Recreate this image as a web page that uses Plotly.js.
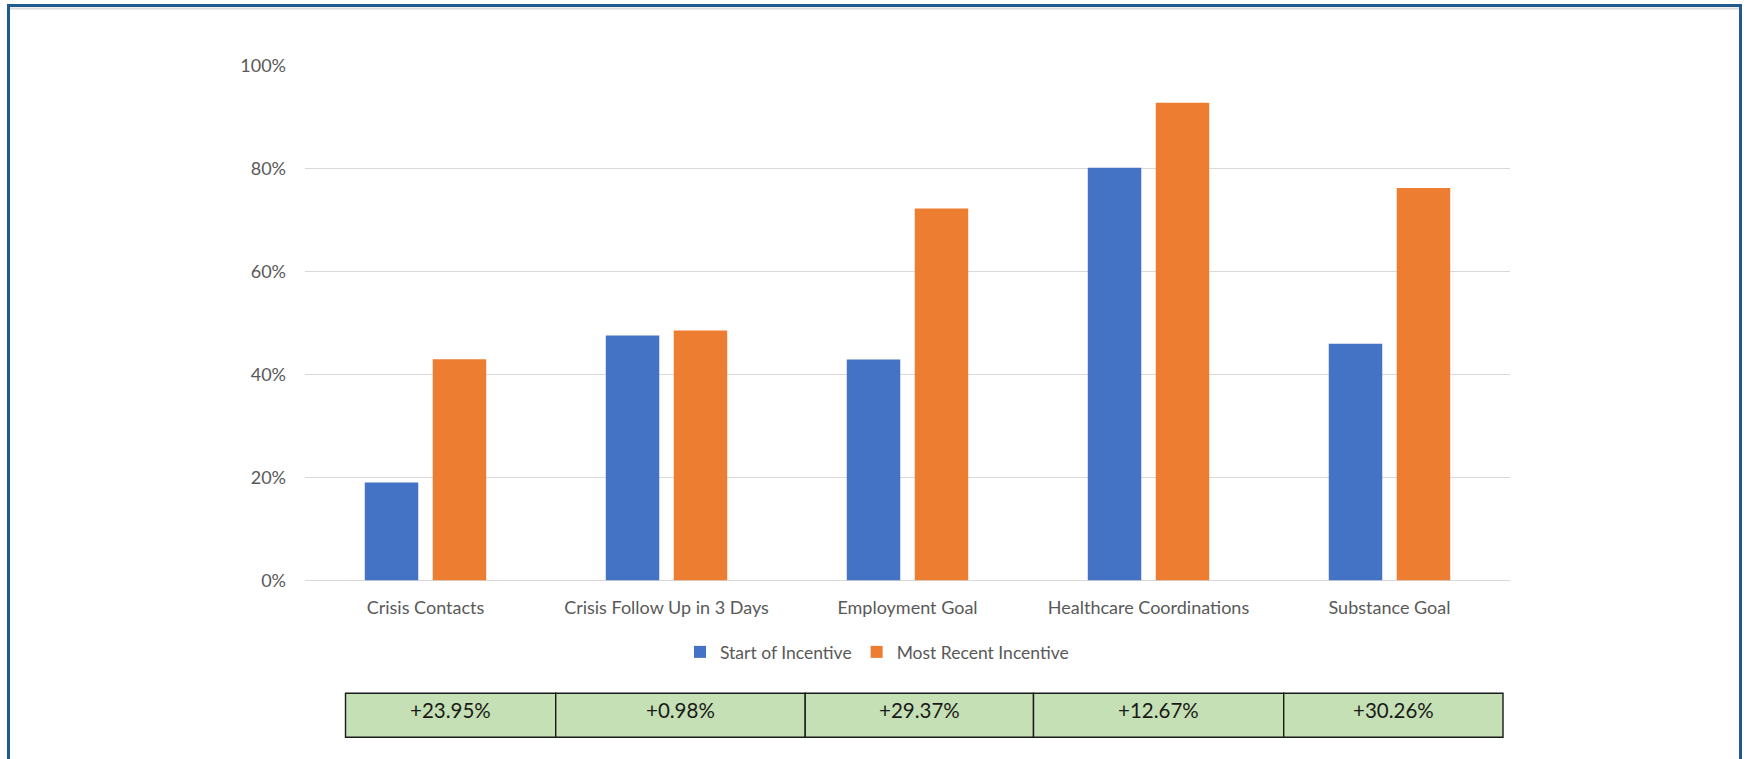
<!DOCTYPE html>
<html>
<head>
<meta charset="utf-8">
<script src="https://cdn.plot.ly/plotly-3.0.1.min.js"></script>
<style>
  html, body { margin: 0; padding: 0; background: #ffffff; }
  #chart { width: 1750px; height: 759px; }
</style>
</head>
<body>
<div id="chart"></div>
<script>
// Program metrics, share of clients meeting each goal (%)
const categories = [
  'Crisis Contacts',
  'Crisis Follow Up in 3 Days',
  'Employment Goal',
  'Healthcare Coordinations',
  'Substance Goal'
];
const startOfIncentive   = [19.05, 47.62, 42.95, 80.20, 46.03];
const mostRecentIncentive = [43.00, 48.60, 72.32, 92.87, 76.29];
const seriesNames = ['Start of Incentive', 'Most Recent Incentive'];
const yTickValues = [0, 20, 40, 60, 80, 100];
const yTickLabels = ['0%', '20%', '40%', '60%', '80%', '100%'];

// Change row under the chart, derived from the two series
const changeLabels = mostRecentIncentive.map(function (v, i) {
  return '+' + (v - startOfIncentive[i]).toFixed(2) + '%';
});

const W = 1750, H = 759;
const px = function (x) { return x / W; };
const py = function (y) { return 1 - y / H; };

const FONT = 'Lato, Carlito, Calibri, "Open Sans", sans-serif';
const BLUE = '#4472C4';
const ORANGE = '#ED7D31';
const GRID = '#d9d9d9';

const traces = [
  {
    type: 'bar',
    name: seriesNames[0],
    x: categories,
    y: startOfIncentive,
    marker: { color: BLUE },
    hoverinfo: 'x+y'
  },
  {
    type: 'bar',
    name: seriesNames[1],
    x: categories,
    y: mostRecentIncentive,
    marker: { color: ORANGE },
    hoverinfo: 'x+y'
  }
];

// Table strip: column edges in page pixels
const colEdges = [345.5, 555.7, 805.2, 1033.5, 1283.7, 1503];
const tableTop = 693.3, tableBottom = 737.3;

const shapes = [];
const annotations = [];

// outer panel frame
shapes.push({
  type: 'line', xref: 'paper', yref: 'paper',
  x0: px(10), x1: px(1739), y0: py(8.5), y1: py(8.5),
  line: { color: '#dcdcdc', width: 2 }, layer: 'below'
});
shapes.push({
  type: 'rect', xref: 'paper', yref: 'paper',
  x0: px(8.5), x1: px(1740.5), y0: py(H + 10), y1: py(5.5),
  line: { color: '#1f5b8c', width: 3 }, fillcolor: 'rgba(0,0,0,0)'
});

for (let i = 0; i < changeLabels.length; i++) {
  shapes.push({
    type: 'rect', xref: 'paper', yref: 'paper',
    x0: px(colEdges[i]), x1: px(colEdges[i + 1]),
    y0: py(tableBottom), y1: py(tableTop),
    fillcolor: '#C5E0B4',
    line: { color: '#1a1a1a', width: 1.4 }
  });
  annotations.push({
    xref: 'paper', yref: 'paper',
    x: px((colEdges[i] + colEdges[i + 1]) / 2),
    y: py((tableTop + tableBottom) / 2 - 5),
    xanchor: 'center', yanchor: 'middle',
    text: changeLabels[i],
    showarrow: false,
    font: { family: FONT, size: 20.5, color: '#1a1a1a' }
  });
}

const layout = {
  width: W,
  height: H,
  margin: { l: 0, r: 0, t: 0, b: 0, pad: 0 },
  paper_bgcolor: '#ffffff',
  plot_bgcolor: '#ffffff',
  font: { family: FONT, size: 18, color: '#595959' },
  barmode: 'group',
  bargap: 0.436,
  bargroupgap: 0.213,
  showlegend: true,
  legend: {
    orientation: 'h',
    x: px(680), xanchor: 'left',
    y: py(652), yanchor: 'middle',
    font: { family: FONT, size: 17.5, color: '#595959' },
    bgcolor: 'rgba(0,0,0,0)',
    itemclick: false, itemdoubleclick: false
  },
  xaxis: {
    domain: [px(305), px(1510)],
    automargin: false,
    showgrid: false,
    showline: false,
    zeroline: false,
    ticks: '',
    ticklabelstandoff: 14,
    tickfont: { family: FONT, size: 18, color: '#595959' },
    fixedrange: true
  },
  yaxis: {
    domain: [py(580.5), py(66)],
    range: [0, 100],
    automargin: false,
    tickmode: 'array',
    tickvals: yTickValues,
    ticktext: yTickLabels,
    showgrid: true,
    gridcolor: GRID,
    gridwidth: 1,
    zeroline: true,
    zerolinecolor: GRID,
    zerolinewidth: 1,
    showline: false,
    ticks: '',
    ticklabelstandoff: 18,
    tickfont: { family: FONT, size: 18, color: '#595959' },
    fixedrange: true
  },
  shapes: shapes,
  annotations: annotations
};

Plotly.newPlot('chart', traces, layout, { displayModeBar: false });
</script>
</body>
</html>
